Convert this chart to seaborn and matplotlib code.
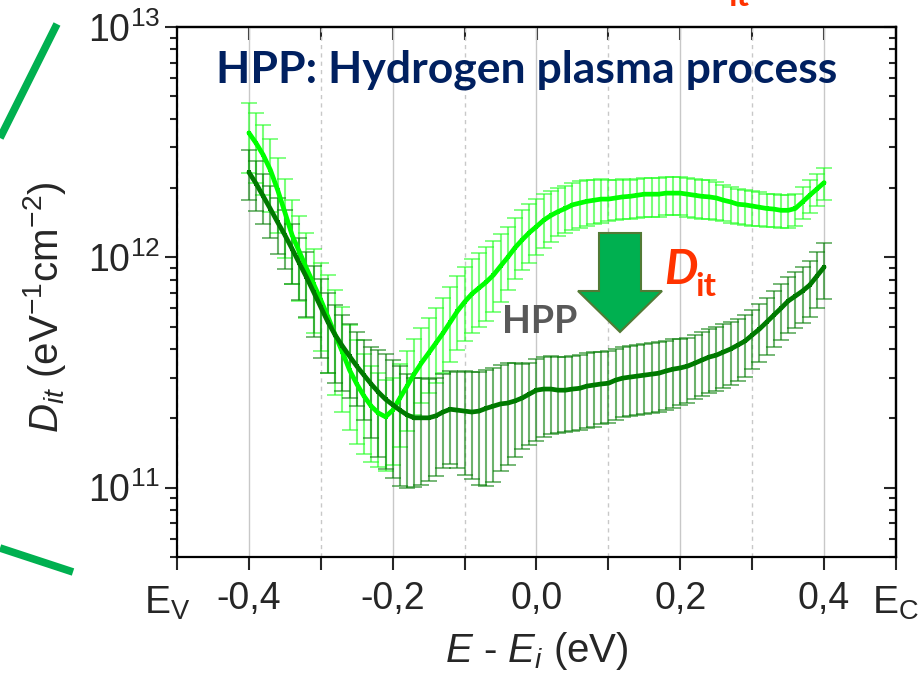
import numpy as np
import pandas as pd
import matplotlib
matplotlib.use("Agg")
import matplotlib.pyplot as plt
import seaborn as sns
from matplotlib.ticker import MultipleLocator, LogLocator, NullFormatter, FuncFormatter
from matplotlib import font_manager as fm
from matplotlib.patches import Polygon
from matplotlib.lines import Line2D

# ---------------- data (D_it in units of 1e11 eV^-1 cm^-2) ----------------
energy = [-0.40, -0.39, -0.38, -0.37, -0.36, -0.35, -0.34, -0.33, -0.32, -0.31,
          -0.30, -0.29, -0.28, -0.27, -0.26, -0.25, -0.24, -0.23, -0.22, -0.21,
          -0.20, -0.19, -0.18, -0.17, -0.16, -0.15, -0.14, -0.13, -0.12, -0.11,
          -0.10, -0.09, -0.08, -0.07, -0.06, -0.05, -0.04, -0.03, -0.02, -0.01,
          0.00, 0.01, 0.02, 0.03, 0.04, 0.05, 0.06, 0.07, 0.08, 0.09,
          0.10, 0.11, 0.12, 0.13, 0.14, 0.15, 0.16, 0.17, 0.18, 0.19,
          0.20, 0.21, 0.22, 0.23, 0.24, 0.25, 0.26, 0.27, 0.28, 0.29,
          0.30, 0.31, 0.32, 0.33, 0.34, 0.35, 0.36, 0.37, 0.38, 0.39, 0.40]

before_dit = [34.7, 31.3, 27.8, 23.9, 19.6, 15.7, 12.5, 10.6, 8.98, 7.66,
              6.53, 5.51, 4.60, 3.88, 3.24, 2.82, 2.50, 2.26, 2.11, 2.03,
              2.17, 2.45, 2.76, 3.12, 3.48, 3.84, 4.24, 4.69, 5.23, 5.84,
              6.40, 6.93, 7.36, 7.81, 8.37, 9.16, 10.0, 11.0, 11.9, 12.8,
              13.6, 14.5, 15.2, 15.8, 16.3, 16.9, 17.2, 17.5, 17.7, 17.9,
              17.9, 18.1, 18.3, 18.4, 18.6, 18.8, 18.8, 18.8, 19.0, 19.0,
              19.0, 18.8, 18.6, 18.4, 18.3, 18.1, 17.7, 17.4, 17.0, 16.9,
              16.7, 16.5, 16.3, 16.2, 16.0, 16.0, 16.3, 17.4, 18.6, 19.8, 21.1]
# relative error bar extent (upper / lower) of the untreated sample
before_err_up = [0.35, 0.35, 0.35, 0.36, 0.38, 0.40, 0.42, 0.42, 0.42, 0.42,
                 0.45, 0.52, 0.57, 0.57, 0.57, 0.55, 0.52, 0.49, 0.49, 0.45,
                 0.38, 0.40, 0.42, 0.42, 0.42, 0.42, 0.42, 0.42, 0.42, 0.42,
                 0.42, 0.42, 0.42, 0.42, 0.40, 0.38, 0.35, 0.35, 0.35, 0.33,
                 0.32, 0.30, 0.28, 0.26, 0.25, 0.25, 0.25, 0.24, 0.23, 0.22,
                 0.21, 0.20, 0.19, 0.18, 0.18, 0.18, 0.18, 0.18, 0.18, 0.18,
                 0.18, 0.18, 0.18, 0.18, 0.18, 0.17, 0.17, 0.16, 0.16, 0.16,
                 0.16, 0.16, 0.16, 0.16, 0.16, 0.16, 0.16, 0.16, 0.16, 0.16, 0.16]
before_err_lo = [0.33, 0.33, 0.33, 0.34, 0.35, 0.37, 0.39, 0.39, 0.39, 0.39,
                 0.40, 0.43, 0.45, 0.45, 0.45, 0.45, 0.44, 0.43, 0.42, 0.42,
                 0.42, 0.39, 0.36, 0.34, 0.33, 0.33, 0.33, 0.33, 0.33, 0.32,
                 0.32, 0.32, 0.32, 0.32, 0.31, 0.30, 0.28, 0.27, 0.26, 0.26,
                 0.25, 0.24, 0.23, 0.22, 0.22, 0.22, 0.22, 0.22, 0.21, 0.21,
                 0.20, 0.20, 0.20, 0.20, 0.20, 0.20, 0.20, 0.20, 0.20, 0.20,
                 0.20, 0.20, 0.20, 0.20, 0.20, 0.20, 0.19, 0.19, 0.18, 0.18,
                 0.18, 0.17, 0.17, 0.16, 0.16, 0.16, 0.16, 0.16, 0.16, 0.16, 0.16]

hpp_dit = [23.4, 20.9, 18.4, 16.2, 14.2, 12.5, 10.9, 9.45, 8.21, 7.07,
           6.08, 5.23, 4.60, 4.12, 3.72, 3.37, 3.08, 2.82, 2.60, 2.42,
           2.29, 2.17, 2.07, 2.01, 2.01, 2.01, 2.05, 2.13, 2.19, 2.17,
           2.15, 2.13, 2.15, 2.21, 2.26, 2.31, 2.33, 2.38, 2.45, 2.55,
           2.65, 2.68, 2.68, 2.65, 2.65, 2.68, 2.70, 2.76, 2.79, 2.82,
           2.84, 2.93, 2.99, 3.02, 3.05, 3.08, 3.11, 3.14, 3.21, 3.27,
           3.31, 3.37, 3.47, 3.58, 3.69, 3.76, 3.88, 4.00, 4.16, 4.33,
           4.60, 4.88, 5.23, 5.61, 6.01, 6.46, 6.79, 7.14, 7.58, 8.29, 9.07]
hpp_err_up = [0.25, 0.25, 0.25, 0.26, 0.27, 0.28, 0.28, 0.28, 0.29, 0.30,
              0.32, 0.34, 0.35, 0.36, 0.38, 0.40, 0.42, 0.45, 0.52, 0.57,
              0.57, 0.55, 0.50, 0.49, 0.49, 0.48, 0.46, 0.46, 0.46, 0.47,
              0.49, 0.49, 0.48, 0.46, 0.46, 0.48, 0.49, 0.46, 0.40, 0.37,
              0.37, 0.38, 0.39, 0.39, 0.39, 0.39, 0.39, 0.39, 0.39, 0.38,
              0.38, 0.37, 0.36, 0.36, 0.36, 0.36, 0.36, 0.36, 0.35, 0.35,
              0.34, 0.33, 0.32, 0.32, 0.32, 0.32, 0.32, 0.31, 0.30, 0.30,
              0.29, 0.28, 0.27, 0.27, 0.27, 0.27, 0.27, 0.27, 0.27, 0.27, 0.27]
hpp_err_lo = [0.24, 0.24, 0.24, 0.25, 0.27, 0.29, 0.30, 0.31, 0.33, 0.36,
              0.40, 0.40, 0.38, 0.36, 0.34, 0.33, 0.36, 0.42, 0.48, 0.50,
              0.52, 0.53, 0.52, 0.50, 0.49, 0.47, 0.45, 0.43, 0.42, 0.44,
              0.47, 0.49, 0.52, 0.54, 0.53, 0.49, 0.46, 0.43, 0.40, 0.40,
              0.40, 0.38, 0.36, 0.35, 0.34, 0.34, 0.34, 0.34, 0.34, 0.33,
              0.33, 0.33, 0.32, 0.32, 0.32, 0.32, 0.32, 0.32, 0.32, 0.32,
              0.31, 0.31, 0.30, 0.30, 0.30, 0.30, 0.30, 0.30, 0.30, 0.30,
              0.29, 0.28, 0.28, 0.27, 0.27, 0.27, 0.27, 0.27, 0.27, 0.27, 0.27]

series_names = ["Before", "HPP"]
UNIT = 1e11

# ---------------- style ----------------
sns.set_style("white")
avail = {f.name for f in fm.fontManager.ttflist}
NARROW = "Liberation Sans Narrow" if "Liberation Sans Narrow" in avail else "Liberation Sans"
plt.rcParams["font.family"] = ["Liberation Sans", "DejaVu Sans"]
plt.rcParams["mathtext.fontset"] = "custom"
plt.rcParams["mathtext.rm"] = "Liberation Sans"
plt.rcParams["mathtext.it"] = "Liberation Sans:italic"
plt.rcParams["mathtext.bf"] = "Liberation Sans:bold"

W, H = 920, 681
fig = plt.figure(figsize=(W / 100, H / 100), dpi=100)
L, R, T, B = 177, 896, 27, 557
ax = fig.add_axes([L / W, 1 - B / H, (R - L) / W, (B - T) / H])

def fpx(x, y):
    return (x / W, 1 - y / H)

# ---------------- data frame ----------------
rows = []
for name, vals, up, lo in [(series_names[0], before_dit, before_err_up, before_err_lo),
                           (series_names[1], hpp_dit, hpp_err_up, hpp_err_lo)]:
    for e, v, u, l in zip(energy, vals, up, lo):
        rows.append({"E": e, "Dit": v * UNIT, "up": v * u * UNIT, "lo": v * l * UNIT, "sample": name})
df = pd.DataFrame(rows)

colors_line = {"Before": "#00ff00", "HPP": "#007a00"}
colors_err = {"Before": "#22ff22", "HPP": "#0a800a"}

for name, alpha in [("Before", 0.6), ("HPP", 0.6)]:
    d = df[df["sample"] == name]
    ax.errorbar(d["E"], d["Dit"], yerr=[d["lo"], d["up"]], fmt="none",
                ecolor=colors_err[name], elinewidth=1.5, capsize=6, capthick=1.3,
                alpha=alpha, zorder=2)

sns.lineplot(data=df, x="E", y="Dit", hue="sample", palette=colors_line,
             linewidth=3.4, legend=False, ax=ax, zorder=4, estimator=None,
             marker="s", markersize=3, markeredgewidth=0)

ax.set_yscale("log")
ax.set_xlim(-0.5, 0.5)
ax.set_ylim(5e10, 1e13)

# ---------------- axes styling ----------------
for s in ax.spines.values():
    s.set_linewidth(1.6)
    s.set_color("black")

ax.xaxis.set_major_locator(MultipleLocator(0.2))
ax.xaxis.set_minor_locator(MultipleLocator(0.1))
ax.xaxis.set_major_formatter(FuncFormatter(lambda v, p: ("%.1f" % v).replace("-0.0", "0.0").replace(".", ",")))
ax.tick_params(axis="x", which="both", direction="out", length=9, width=1.5,
               bottom=True, top=False, labelsize=27, pad=8)
for lab in ax.get_xticklabels():
    lab.set_family(NARROW)

ax.yaxis.set_major_locator(LogLocator(base=10, numticks=10))
ax.yaxis.set_minor_locator(LogLocator(base=10, subs=np.arange(2, 10), numticks=20))
ax.yaxis.set_minor_formatter(NullFormatter())
ax.tick_params(axis="y", which="major", direction="out", length=9, width=1.5,
               left=True, labelsize=27, pad=3)
ax.tick_params(axis="y", which="minor", direction="out", length=5, width=1.5, left=True)

ax.grid(which="major", axis="x", color="#c8c8c8", lw=1.0, ls="-", zorder=0)
ax.grid(which="minor", axis="x", color="#c8c8c8", lw=1.0, ls=(0, (3, 3)), zorder=0)
ax.grid(False, axis="y", which="both")
ax.set_axisbelow(True)

sx = ax.secondary_xaxis("top")
sx.xaxis.set_major_locator(MultipleLocator(0.1))
sx.tick_params(direction="in", length=9, width=1.5, top=True, labeltop=False)
sx.spines["top"].set_linewidth(1.6)
sy = ax.secondary_yaxis("right")
sy.yaxis.set_major_locator(LogLocator(base=10, numticks=10))
sy.yaxis.set_minor_locator(LogLocator(base=10, subs=np.arange(2, 10), numticks=20))
sy.tick_params(which="major", direction="in", length=9, width=1.5, right=True, labelright=False)
sy.tick_params(which="minor", direction="in", length=5, width=1.5, right=True, labelright=False)
sy.spines["right"].set_linewidth(1.6)

ax.set_xlabel(r"$E$ - $E_i$ (eV)", fontsize=29, labelpad=10)
ax.set_ylabel(r"$D_{it}$ (eV$^{-1}$cm$^{-2}$)", fontsize=29)
ax.yaxis.set_label_coords(-(L - 68) / (R - L), 0.5 - 15 / (B - T))

# band edge labels
fig.text(*fpx(167, 603), r"E$_\mathregular{V}$", fontsize=28, family=NARROW, ha="center", va="center")
fig.text(*fpx(919, 603), r"E$_\mathregular{C}$", fontsize=28, family=NARROW, ha="right", va="center")

# annotations inside the plot
fig.text(*fpx(527, 70), "HPP: Hydrogen plasma process", fontsize=32, fontweight="bold",
         family=["Lato", "Open Sans", "DejaVu Sans"], color="#002060", ha="center", va="center")
fig.text(*fpx(540, 322), "HPP", fontsize=27, fontweight="bold",
         family=["Lato", "Open Sans", "DejaVu Sans"], color="#595959", ha="center", va="center")
fig.text(*fpx(664, 284), "D", fontsize=34, fontweight="bold", style="italic",
         family=["Lato", "Open Sans", "DejaVu Sans"], color="#ff3300", ha="left", va="baseline")
fig.text(*fpx(695, 296), "it", fontsize=24, fontweight="bold",
         family=["Lato", "Open Sans", "DejaVu Sans"], color="#ff3300", ha="left", va="baseline")
# fragment of red text cut at the top edge (as in the reference)
fig.text(*fpx(728, 6), "it", fontsize=24, fontweight="bold",
         family=["Lato", "Open Sans", "DejaVu Sans"], color="#ff3300", ha="left", va="baseline")

# big down arrow
arrow_pts = [(599, 233), (641, 233), (641, 291), (662, 291), (620, 332), (578, 291), (599, 291)]
fig.add_artist(Polygon([fpx(x, y) for x, y in arrow_pts], closed=True, transform=fig.transFigure,
                       facecolor="#00b050", edgecolor="#527a35", lw=1.5, zorder=10))

# decorative green strokes at the left edge
fig.add_artist(Line2D([fpx(0, 138)[0], fpx(57, 24)[0]], [fpx(0, 138)[1], fpx(57, 24)[1]],
                      transform=fig.transFigure, color="#00b050", lw=5.5, solid_capstyle="butt"))
fig.add_artist(Line2D([fpx(0, 548)[0], fpx(73, 572)[0]], [fpx(0, 548)[1], fpx(73, 572)[1]],
                      transform=fig.transFigure, color="#00b050", lw=5.5, solid_capstyle="butt"))

fig.savefig("out.png", dpi=100)
